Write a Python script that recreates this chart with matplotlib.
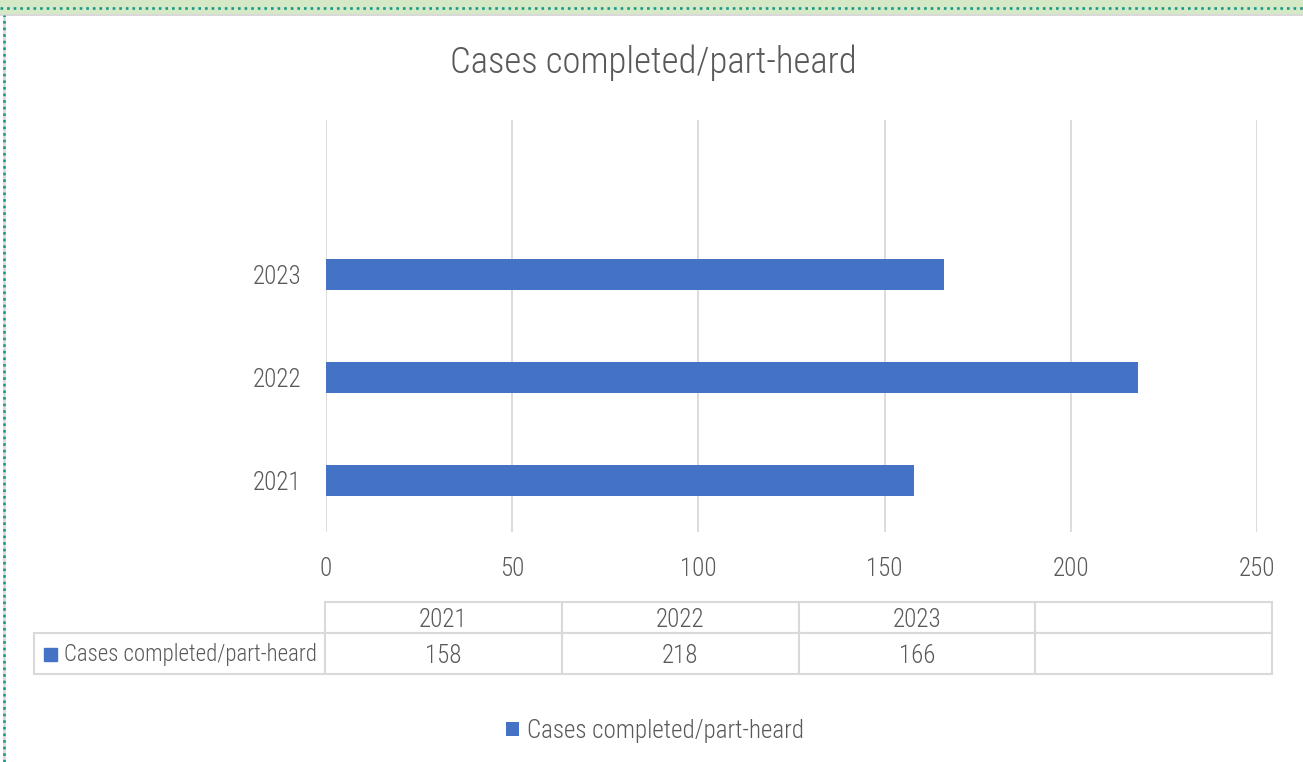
import matplotlib
matplotlib.use('Agg')
import matplotlib.pyplot as plt
from matplotlib import font_manager
from matplotlib.patches import Rectangle
from matplotlib.lines import Line2D

years = ['2021', '2022', '2023']
cases = [158, 218, 166]
series_name = 'Cases completed/part-heard'
title = 'Cases completed/part-heard'
xticks = [0, 50, 100, 150, 200, 250]

BLUE = '#4472c4'
GREY_TXT = '#595959'
GRID = '#d9d9d9'
TEAL = '#17998a'

# pick a narrow face if one is installed
have = {f.name for f in font_manager.fontManager.ttflist}
face = next((n for n in ['Roboto Condensed', 'Liberation Sans Narrow', 'Open Sans Condensed', 'Roboto']
             if n in have), 'DejaVu Sans')
plt.rcParams['font.family'] = [face, 'DejaVu Sans']
plt.rcParams['font.weight'] = 'light'

FS = 18       # axis / table text
FS_LAB = 16.5 # series name in the table row

W, H = 1303, 762
fig = plt.figure(figsize=(W/100, H/100), dpi=100)

# frame decoration (top band and dotted border)
fig.patches.append(Rectangle((0, 1-14/H), 1, 14/H, transform=fig.transFigure, color='#d6e9c6', zorder=0))
fig.lines.append(Line2D([0, 1], [1-15/H, 1-15/H], transform=fig.transFigure, color=GRID, lw=1.5))
fig.lines.append(Line2D([4/W, 4/W], [0, 1-15/H], transform=fig.transFigure, color=GRID, lw=2))
fig.lines.append(Line2D([0, 1], [1-8/H, 1-8/H], transform=fig.transFigure, color=TEAL,
                        lw=1.9, linestyle=(0, (1, 1.5))))
fig.lines.append(Line2D([4/W, 4/W], [0, 1-15/H], transform=fig.transFigure, color=TEAL,
                        lw=1.9, linestyle=(0, (1, 1.5))))

# main bar chart
ax = fig.add_axes([326/W, (H-532)/H, 931/W, 412/H])
cats = years + ['']
pos = list(range(len(cats)))
bars = ax.barh(pos[:len(cases)], cases, height=0.31, color=BLUE, label=series_name, zorder=3)
ax.set_ylim(-0.5, len(cats) - 0.5)
ax.set_yticks(pos)
ax.set_yticklabels(cats)
ax.set_xlim(0, 250)
ax.set_xticks(xticks)
ax.grid(axis='x', color=GRID, lw=1.3, zorder=0)
for s in ax.spines.values():
    s.set_visible(False)
ax.tick_params(axis='both', length=0, labelsize=FS, labelcolor=GREY_TXT)
ax.tick_params(axis='x', pad=18)
ax.tick_params(axis='y', pad=18)

fig.text(653/W, 1-63/H, title, ha='center', va='center', fontsize=26.5, color=GREY_TXT)

# data table under the chart
tax = fig.add_axes([34/W, (H-674)/H, (1272-34)/W, 72/H])
tax.axis('off')
cell_text = [[''] + years + [''], [''] + [str(v) for v in cases] + ['']]
tbl = tax.table(cellText=cell_text, cellLoc='center', bbox=[0, 0, 1, 1])
tbl.auto_set_font_size(False)
tbl.set_fontsize(FS)
col_w = [291] + [236.75] * 4
row_h = [31, 41]
for (r, c), cell in tbl.get_celld().items():
    cell.set_width(col_w[c])
    cell.set_height(row_h[r])
    cell.set_edgecolor(GRID)
    cell.set_linewidth(1.5)
    txt = cell.get_text()
    txt.set_color(GREY_TXT)
    txt.set_fontweight('light')
    txt.set_va('center_baseline')
tbl[0, 0].visible_edges = ''

fig.patches.append(Rectangle((44/W, (H-661)/H), 13/W, 13/H, transform=fig.transFigure, color=BLUE))
fig.text(64/W, (H-655)/H, series_name, ha='left', va='center', fontsize=FS_LAB, color=GREY_TXT)

leg = ax.legend(handles=[bars], loc='center', bbox_to_anchor=(655/W, 31/H),
                bbox_transform=fig.transFigure, frameon=False, fontsize=FS,
                handlelength=0.52, handleheight=0.52, handletextpad=0.35)
for t in leg.get_texts():
    t.set_color(GREY_TXT)

fig.savefig('out.png', dpi=100)
